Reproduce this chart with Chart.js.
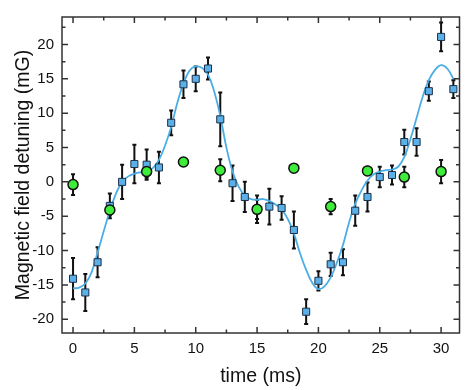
<!DOCTYPE html>
<html>
<head>
<meta charset="utf-8">
<script src="https://cdn.jsdelivr.net/npm/chart.js@4.4.0/dist/chart.umd.min.js"></script>
<style>
    body { margin: 0; background: #fff; }
    #wrap { width: 466px; height: 390px; }
</style>
</head>
<body>
<div id="wrap"><canvas id="detuningChart" width="466" height="390"></canvas></div>
<script>
// measured points (blue squares)
const timeBlue = [0, 1, 2, 3, 4, 5, 6, 7, 8, 9, 10, 11, 12, 13, 14, 15,
                  16, 17, 18, 19, 20, 21, 22, 23, 24, 25, 26, 27, 28, 29, 30, 31];
const detuneBlue = [-14.1, -16.1, -11.7, -3.5, 0.0, 2.6, 2.5, 2.1, 8.6, 14.2, 15.0, 16.5, 9.1, -0.2, -2.2, -4.0,
                    -3.6, -3.8, -7.0, -18.9, -14.4, -12.0, -11.7, -4.2, -2.2, 0.7, 1.0, 5.8, 5.8, 13.2, 21.1, 13.5];
const errBlue = [3.0, 2.7, 2.2, 1.8, 2.5, 2.8, 2.2, 2.3, 1.8, 2.0, 1.8, 1.6, 3.9, 2.6, 2.2, 2.0,
                 2.6, 1.7, 2.7, 1.8, 1.4, 1.7, 1.9, 2.2, 2.1, 1.5, 1.4, 1.8, 2.0, 1.4, 2.1, 1.3];

// reference points (green circles)
const timeGreen = [0, 3, 6, 9, 12, 15, 18, 21, 24, 27, 30];
const detuneGreen = [-0.4, -4.1, 1.5, 2.9, 1.7, -4.0, 2.0, -3.6, 1.6, 0.7, 1.5];
const errGreen = [1.5, 0.8, 0.9, 0.5, 1.6, 1.4, 0.5, 1.1, 0.6, 1.5, 1.7];

// fitted curve
const fitTime = [0, 0.5, 1, 1.5, 2, 2.5, 3, 3.5, 4, 4.5, 5, 5.5, 6, 6.5, 7, 7.5, 8, 8.5, 9, 9.5,
                 10, 10.5, 11, 11.5, 12, 12.5, 13, 13.5, 14, 14.5, 15, 15.5, 16, 16.5, 17, 17.5, 18, 18.5, 19, 19.5,
                 20, 20.5, 21, 21.5, 22, 22.5, 23, 23.5, 24, 24.5, 25, 25.5, 26, 26.5, 27, 27.5, 28, 28.5, 29, 29.5,
                 30, 30.5, 31];
const fitDetune = [-15.5, -15.4, -14.8, -13.2, -10.3, -7.2, -4.2, -1.7, 0.0, 0.8, 1.2, 1.4, 1.6, 2.0, 3.2, 5.3, 8.0, 11.5, 14.3, 16.2,
                   16.8, 16.6, 15.6, 13.2, 9.6, 5.0, 1.5, -0.7, -2.0, -2.5, -2.6, -2.5, -2.8, -3.3, -4.0, -5.4, -7.5, -10.4, -12.8, -14.7,
                   -15.6, -15.2, -13.9, -11.8, -9.2, -5.9, -3.2, -1.3, 0.2, 1.1, 1.5, 1.7, 1.8, 2.2, 3.6, 6.2, 9.3, 12.4, 14.8, 16.3,
                   17.0, 16.5, 15.0];

// axis ticks
const xMajorTicks = [0, 5, 10, 15, 20, 25, 30];
const xMinorTicks = [2.5, 7.5, 12.5, 17.5, 22.5, 27.5];
const yMajorTicks = [-20, -15, -10, -5, 0, 5, 10, 15, 20];
const yMinorTicks = [-17.5, -12.5, -7.5, -2.5, 2.5, 7.5, 12.5, 17.5, 22.5];

const FONT = "'Liberation Sans', Arial, sans-serif";

function toPoints(xs, ys) {
    return xs.map((x, i) => ({ x: x, y: ys[i] }));
}

// error bars, drawn under the markers
const errorBarPlugin = {
    id: 'errorBars',
    beforeDatasetsDraw(chart) {
        const ctx = chart.ctx;
        const xs = chart.scales.x;
        const ys = chart.scales.y;
        ctx.save();
        ctx.strokeStyle = '#111';
        ctx.lineWidth = 2;
        const draw = (tx, vy, err) => {
            tx.forEach((t, i) => {
                const px = xs.getPixelForValue(t);
                const top = ys.getPixelForValue(vy[i] + err[i]);
                const bot = ys.getPixelForValue(vy[i] - err[i]);
                ctx.beginPath();
                ctx.moveTo(px, top); ctx.lineTo(px, bot);
                ctx.moveTo(px - 2, top); ctx.lineTo(px + 2, top);
                ctx.moveTo(px - 2, bot); ctx.lineTo(px + 2, bot);
                ctx.stroke();
            });
        };
        draw(timeBlue, detuneBlue, errBlue);
        draw(timeGreen, detuneGreen, errGreen);
        ctx.restore();
    }
};

// box frame with inward ticks on all four sides
const framePlugin = {
    id: 'frame',
    beforeDatasetsDraw(chart) {
        const ctx = chart.ctx;
        const a = chart.chartArea;
        const xs = chart.scales.x;
        const ys = chart.scales.y;
        ctx.save();
        ctx.strokeStyle = '#333';
        ctx.lineWidth = 1.5;
        ctx.strokeRect(a.left, a.top, a.right - a.left, a.bottom - a.top);
        ctx.beginPath();
        const xTick = (v, len) => {
            const px = xs.getPixelForValue(v);
            ctx.moveTo(px, a.bottom); ctx.lineTo(px, a.bottom - len);
            ctx.moveTo(px, a.top); ctx.lineTo(px, a.top + len);
        };
        const yTick = (v, len) => {
            const py = ys.getPixelForValue(v);
            ctx.moveTo(a.left, py); ctx.lineTo(a.left + len, py);
            ctx.moveTo(a.right, py); ctx.lineTo(a.right - len, py);
        };
        xMajorTicks.forEach(v => xTick(v, 6));
        xMinorTicks.forEach(v => xTick(v, 3.5));
        yMajorTicks.forEach(v => yTick(v, 6));
        yMinorTicks.forEach(v => yTick(v, 3.5));
        ctx.stroke();
        ctx.restore();
    }
};

function drawChart() {
    const ctx = document.getElementById('detuningChart').getContext('2d');
    new Chart(ctx, {
        type: 'scatter',
        data: {
            datasets: [
                {
                    label: 'reference',
                    data: toPoints(timeGreen, detuneGreen),
                    pointStyle: 'circle',
                    pointRadius: 5,
                    backgroundColor: '#3eec3a',
                    borderColor: '#111',
                    borderWidth: 1.5
                },
                {
                    label: 'measured',
                    data: toPoints(timeBlue, detuneBlue),
                    pointStyle: 'rect',
                    pointRadius: 5,
                    backgroundColor: '#5cb0e8',
                    borderColor: '#1b3048',
                    borderWidth: 1
                },
                {
                    label: 'fit',
                    data: toPoints(fitTime, fitDetune),
                    showLine: true,
                    pointRadius: 0,
                    borderColor: '#4aaee6',
                    borderWidth: 1.8,
                    tension: 0.4,
                    fill: false
                }
            ]
        },
        options: {
            responsive: false,
            animation: false,
            layout: { padding: { left: 0, right: 5, top: 11, bottom: 0 } },
            plugins: {
                legend: { display: false },
                tooltip: { enabled: false }
            },
            scales: {
                x: {
                    type: 'linear',
                    min: -0.9,
                    max: 31.5,
                    afterBuildTicks: scale => { scale.ticks = xMajorTicks.map(v => ({ value: v })); },
                    afterFit: scale => { scale.height = 57; },
                    grid: { display: false, drawTicks: false },
                    border: { display: false },
                    ticks: {
                        padding: 7,
                        color: '#111',
                        font: { family: FONT, size: 15 }
                    },
                    title: {
                        display: true,
                        text: 'time (ms)',
                        color: '#111',
                        padding: { top: 0, bottom: 2 },
                        font: { family: FONT, size: 19.5 }
                    }
                },
                y: {
                    type: 'linear',
                    min: -22,
                    max: 24,
                    afterBuildTicks: scale => { scale.ticks = yMajorTicks.map(v => ({ value: v })); },
                    afterFit: scale => { scale.width = 62; },
                    grid: { display: false, drawTicks: false },
                    border: { display: false },
                    ticks: {
                        padding: 8,
                        color: '#111',
                        font: { family: FONT, size: 15 }
                    },
                    title: {
                        display: true,
                        text: 'Magnetic field detuning (mG)',
                        color: '#111',
                        padding: { top: 12, bottom: 0 },
                        font: { family: FONT, size: 19.5 }
                    }
                }
            }
        },
        plugins: [framePlugin, errorBarPlugin]
    });
}

document.addEventListener('DOMContentLoaded', drawChart);
</script>
</body>
</html>
